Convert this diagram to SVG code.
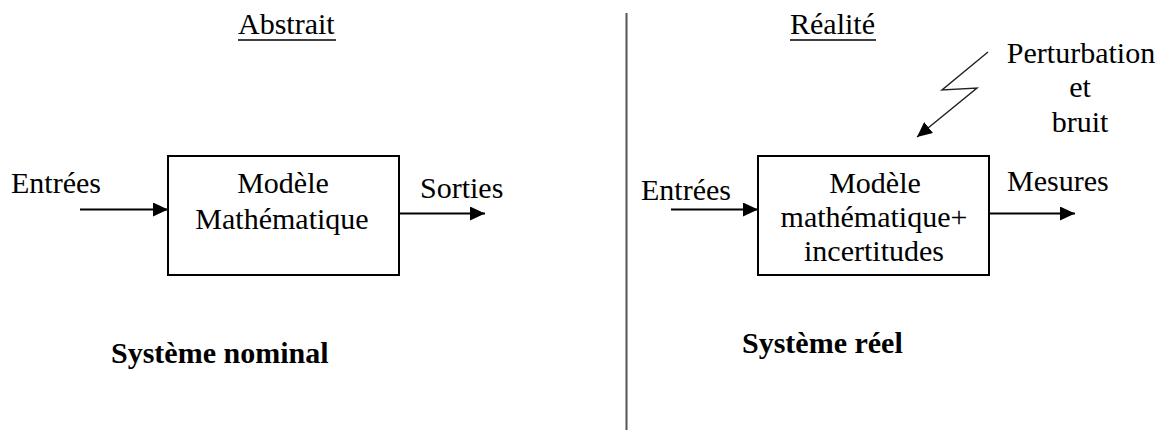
<svg xmlns="http://www.w3.org/2000/svg" width="1163" height="430" viewBox="0 0 1163 430">
  <defs>
    <marker id="arrow" markerUnits="userSpaceOnUse" markerWidth="15" markerHeight="14" refX="15" refY="7" orient="auto">
      <path d="M0,0 L15,7 L0,14 z" fill="#000"/>
    </marker>
    <style>
      .t { font-family: "Liberation Serif", "Times New Roman", serif; font-size: 30px; fill: #000; }
      .b { font-family: "Liberation Serif", "Times New Roman", serif; font-size: 30px; font-weight: bold; fill: #000; }
      .mid { text-anchor: middle; }
      .box { fill: #fff; stroke: #000; stroke-width: 2; }
      .link { fill: none; stroke: #000; stroke-width: 2; marker-end: url(#arrow); }
      .zig { fill: none; stroke: #222; stroke-width: 1.4; stroke-linejoin: miter; marker-end: url(#arrow); }
      .ul { stroke: #000; stroke-width: 1.5; }
    </style>
  </defs>
  <rect width="1163" height="430" fill="#fff"/>

  <!-- separator between the two halves -->
  <line x1="626.5" y1="13" x2="626.5" y2="430" stroke="#555" stroke-width="2"/>

  <!-- headings -->
  <g id="heading-abstrait">
    <text class="t" x="238" y="34">Abstrait</text>
    <line class="ul" x1="238" y1="40" x2="336" y2="40"/>
  </g>
  <g id="heading-realite">
    <text class="t" x="790" y="34">Réalité</text>
    <line class="ul" x1="790" y1="40" x2="876" y2="40"/>
  </g>

  <!-- left side: nominal system -->
  <g id="in-nominal">
    <text class="t" x="11" y="193">Entrées</text>
  </g>
  <g id="model-nominal">
    <rect class="box" x="168" y="156" width="231" height="119"/>
    <text class="t mid" x="283" y="193">Modèle</text>
    <text class="t mid" x="282" y="229">Mathématique</text>
  </g>
  <g id="out-nominal">
    <text class="t" x="420" y="198">Sorties</text>
  </g>
  <g id="caption-nominal">
    <text class="b" x="111" y="363">Système nominal</text>
  </g>

  <!-- right side: real system -->
  <g id="in-real">
    <text class="t" x="641" y="200">Entrées</text>
  </g>
  <g id="model-real">
    <rect class="box" x="758" y="156" width="231" height="119"/>
    <text class="t mid" x="875" y="193">Modèle</text>
    <text class="t mid" x="874" y="227">mathématique+</text>
    <text class="t mid" x="874" y="261">incertitudes</text>
  </g>
  <g id="out-real">
    <text class="t" x="1007" y="191">Mesures</text>
  </g>
  <g id="disturbance">
    <text class="t mid" x="1081" y="63">Perturbation</text>
    <text class="t mid" x="1080" y="97">et</text>
    <text class="t mid" x="1080" y="132">bruit</text>
  </g>
  <g id="caption-real">
    <text class="b" x="742" y="353">Système réel</text>
  </g>

  <!-- connectors -->
  <g id="connectors">
    <line class="link" x1="80" y1="209.5" x2="168" y2="209.5"/>
    <line class="link" x1="399" y1="213.5" x2="485" y2="213.5"/>
    <line class="link" x1="671" y1="209.5" x2="758" y2="209.5"/>
    <line class="link" x1="989" y1="213.5" x2="1075" y2="213.5"/>
    <polyline class="zig" points="988,52 942,90 977,88 917,137"/>
  </g>
</svg>
